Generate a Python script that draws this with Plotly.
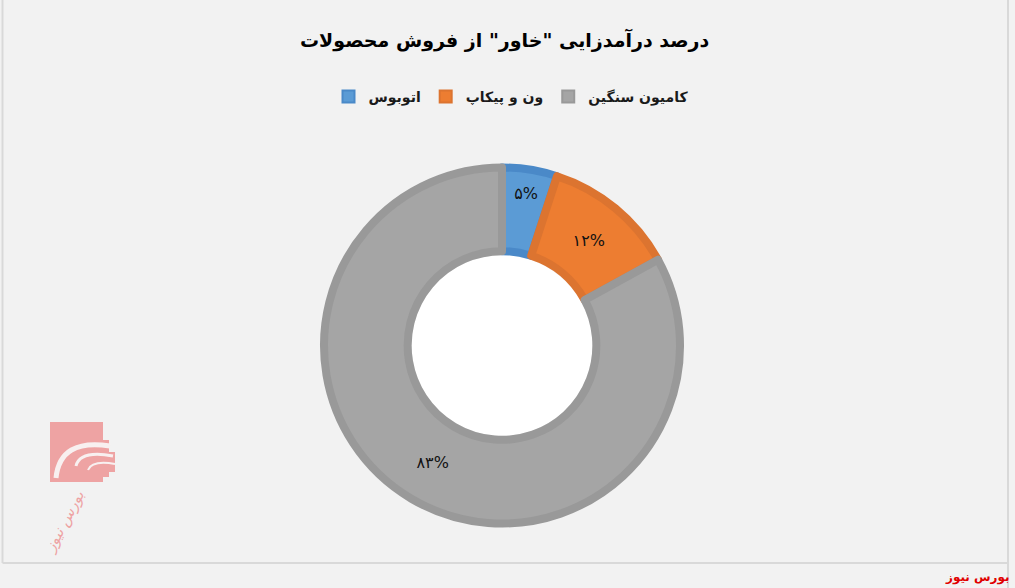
import plotly.graph_objects as go

W, H = 1015, 588

categories = ["اتوبوس", "ون و پیکاپ", "کامیون سنگین"]
values = [5, 12, 83]
value_labels = ["۵%", "۱۲%", "۸۳%"]
fill_colors = ["#5b9bd5", "#ed7d31", "#a5a5a5"]
edge_colors = ["#4a89c8", "#dc7430", "#999999"]
title_text = 'درصد درآمدزایی "خاور" از فروش محصولات'
source_text = "بورس نیوز"

FONT = "DejaVu Sans"

def px(x):
    return x / W

def py(y):
    return 1 - y / H

cx, cy, r_out, line_w = 502, 345.5, 178, 8
hole_frac = 0.53
half_h = r_out / H

fig = go.Figure()
fig.add_trace(go.Pie(
    labels=categories,
    values=values,
    text=value_labels,
    texttemplate="%{text}",
    textposition="inside",
    insidetextorientation="horizontal",
    textfont=dict(family=FONT, size=16, color="#111111"),
    marker=dict(colors=fill_colors, line=dict(color=edge_colors, width=line_w)),
    hole=hole_frac,
    sort=False,
    direction="clockwise",
    rotation=0,
    domain=dict(x=[px(cx) - 0.3, px(cx) + 0.3], y=[py(cy) - half_h, py(cy) + half_h]),
    hoverinfo="label+percent",
    showlegend=True,
))

hole_r = r_out * hole_frac - line_w / 2
shapes = [
    dict(type="circle", xref="paper", yref="paper", layer="below",
         x0=px(cx - hole_r), x1=px(cx + hole_r), y0=py(cy + hole_r), y1=py(cy - hole_r),
         fillcolor="#ffffff", line=dict(width=0)),
    dict(type="line", xref="paper", yref="paper", x0=px(2.5), x1=px(2.5), y0=py(0), y1=py(563),
         line=dict(color="#d9d9d9", width=2)),
    dict(type="line", xref="paper", yref="paper", x0=px(1008), x1=px(1008), y0=py(0), y1=py(588),
         line=dict(color="#d9d9d9", width=2)),
    dict(type="line", xref="paper", yref="paper", x0=px(2.5), x1=px(1008), y0=py(563), y1=py(563),
         line=dict(color="#d9d9d9", width=2)),
    dict(type="rect", xref="paper", yref="paper", layer="below",
         x0=px(50), x1=px(103), y0=py(482), y1=py(422),
         fillcolor="#eea3a3", line=dict(width=0)),
    dict(type="rect", xref="paper", yref="paper", layer="below",
         x0=px(103), x1=px(109), y0=py(477), y1=py(440),
         fillcolor="#eea3a3", line=dict(width=0)),
    dict(type="rect", xref="paper", yref="paper", layer="below",
         x0=px(109), x1=px(115), y0=py(472), y1=py(452),
         fillcolor="#eea3a3", line=dict(width=0)),
]
for (x0, y0, xc, yc, x1, y1, w) in [(56, 478, 60, 438, 110, 446, 5),
                                       (76, 466, 80, 450, 113, 456, 3),
                                       (88, 470, 92, 460, 115, 464, 2)]:
    shapes.append(dict(type="path", xref="paper", yref="paper", layer="below",
                       path=f"M {px(x0)} {py(y0)} Q {px(xc)} {py(yc)} {px(x1)} {py(y1)}",
                       line=dict(color="#f8f0f0", width=w)))

annotations = [
    dict(text=f"<b>{title_text}</b>", x=px(505), y=py(40), xref="paper", yref="paper",
         showarrow=False, font=dict(family=FONT, size=19, color="#000000"),
         xanchor="center", yanchor="middle"),
    dict(text=f"<b>{source_text}</b>", x=px(1012), y=py(577), xref="paper", yref="paper",
         showarrow=False, font=dict(family=FONT, size=12, color="#e00000"),
         xanchor="right", yanchor="middle"),
    dict(text=f"<i>{source_text}</i>", x=px(64), y=py(522), xref="paper", yref="paper",
         showarrow=False, font=dict(family=FONT, size=15, color="#eea3a3"),
         textangle=-62, xanchor="center", yanchor="middle"),
]

fig.update_layout(
    width=W, height=H,
    margin=dict(l=0, r=0, t=0, b=0),
    paper_bgcolor="#f2f2f2",
    plot_bgcolor="#f2f2f2",
    showlegend=True,
    legend=dict(orientation="h", x=px(511), y=py(97), xanchor="center", yanchor="middle",
                font=dict(family=FONT, size=14, color="#1a1a1a", weight="bold"),
                itemsizing="constant", traceorder="normal", bgcolor="rgba(0,0,0,0)"),
    shapes=shapes,
    annotations=annotations,
)

fig.write_html("out.html", config={"displayModeBar": False},
               post_script="document.body.style.margin='0';document.body.style.overflow='hidden';")
